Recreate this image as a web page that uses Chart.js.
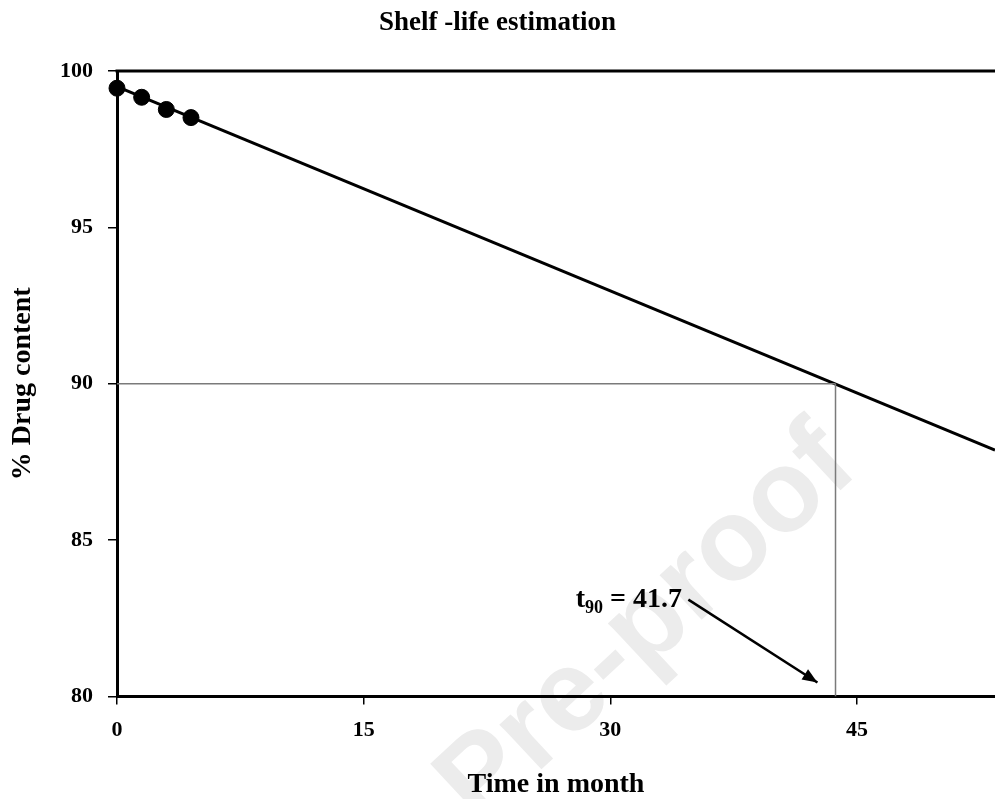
<!DOCTYPE html>
<html>
<head>
<meta charset="utf-8">
<script src="https://cdn.jsdelivr.net/npm/chart.js@4.4.1/dist/chart.umd.min.js"></script>
<style>
  body { margin: 0; background: #fff; }
  #wrap { width: 995px; height: 799px; position: relative; }
</style>
</head>
<body>
<div id="wrap"><canvas id="shelfChart"></canvas></div>
<script>
// measured stability points (month, % drug content)
var months = [0, 1.5, 3, 4.5];
var drugContent = [99.45, 99.16, 98.77, 98.51];

// regression line, drawn between its two ends
var fitX = [0, 53.4];
var fitY = [99.5, 87.88];

// t90 read-off
var t90Month = 43.7;
var t90Level = 90;
var t90Text = '41.7';

// arrow from the label towards the t90 point on the axis
var arrowX = [34.75, 42.6];
var arrowY = [83.1, 80.45];
var labelX = 27.9;
var labelY = 82.85;

var xTicks = [0, 15, 30, 45];
var yTicks = [80, 85, 90, 95, 100];

var serif = "'Liberation Serif', 'Times New Roman', serif";

function toPoints(xs, ys) {
  return xs.map(function (x, i) { return { x: x, y: ys[i] }; });
}

// white background + faint watermark behind everything
var backdrop = {
  id: 'backdrop',
  beforeDraw: function (chart) {
    var ctx = chart.ctx;
    ctx.save();
    ctx.fillStyle = '#fff';
    ctx.fillRect(0, 0, chart.width, chart.height);
    ctx.translate(648, 626);
    ctx.rotate(-43 * Math.PI / 180);
    ctx.font = "bold 116px 'Liberation Sans', Arial, sans-serif";
    ctx.fillStyle = '#ececec';
    ctx.textAlign = 'center';
    ctx.textBaseline = 'middle';
    ctx.fillText('Pre-proof', 0, 0);
    ctx.restore();
  }
};

// top frame line, arrow head and the t90 label
var extras = {
  id: 'extras',
  afterDraw: function (chart) {
    var ctx = chart.ctx;
    var area = chart.chartArea;
    var xs = chart.scales.x, ys = chart.scales.y;
    ctx.save();
    ctx.strokeStyle = '#000';
    ctx.lineWidth = 3;
    ctx.beginPath();
    ctx.moveTo(area.left - 1.5, area.top);
    ctx.lineTo(area.right, area.top);
    ctx.stroke();

    // arrow head
    var x0 = xs.getPixelForValue(arrowX[0]), y0 = ys.getPixelForValue(arrowY[0]);
    var x1 = xs.getPixelForValue(arrowX[1]), y1 = ys.getPixelForValue(arrowY[1]);
    var ang = Math.atan2(y1 - y0, x1 - x0);
    var len = 15, half = 6;
    ctx.fillStyle = '#000';
    ctx.beginPath();
    ctx.moveTo(x1, y1);
    ctx.lineTo(x1 - len * Math.cos(ang) + half * Math.sin(ang), y1 - len * Math.sin(ang) - half * Math.cos(ang));
    ctx.lineTo(x1 - len * Math.cos(ang) - half * Math.sin(ang), y1 - len * Math.sin(ang) + half * Math.cos(ang));
    ctx.closePath();
    ctx.fill();

    // t90 = 41.7 label
    var lx = xs.getPixelForValue(labelX), ly = ys.getPixelForValue(labelY);
    ctx.textBaseline = 'alphabetic';
    ctx.textAlign = 'left';
    ctx.font = 'bold 28px ' + serif;
    ctx.fillText('t', lx, ly);
    lx += ctx.measureText('t').width;
    ctx.font = 'bold 18px ' + serif;
    ctx.fillText('90', lx, ly + 6);
    lx += ctx.measureText('90').width;
    ctx.font = 'bold 28px ' + serif;
    ctx.fillText(' = ' + t90Text, lx, ly);
    ctx.restore();
  }
};

var ctx = document.getElementById('shelfChart').getContext('2d');
var shelfChart = new Chart(ctx, {
  type: 'scatter',
  data: {
    datasets: [
      {
        label: 'h90',
        data: toPoints([0, t90Month], [t90Level, t90Level]),
        showLine: true,
        borderColor: '#7a7a7a',
        borderWidth: 1.5,
        pointRadius: 0
      },
      {
        label: 'v90',
        data: toPoints([t90Month, t90Month], [80, t90Level]),
        showLine: true,
        borderColor: '#7a7a7a',
        borderWidth: 1.5,
        pointRadius: 0
      },
      {
        label: 'fit',
        data: toPoints(fitX, fitY),
        showLine: true,
        borderColor: '#000',
        borderWidth: 3,
        pointRadius: 0
      },
      {
        label: 'arrow',
        data: toPoints(arrowX, arrowY),
        showLine: true,
        borderColor: '#000',
        borderWidth: 2.5,
        pointRadius: 0,
        clip: false
      },
      {
        label: 'Drug content',
        data: toPoints(months, drugContent),
        showLine: false,
        backgroundColor: '#000',
        borderColor: '#000',
        pointRadius: 8,
        pointHoverRadius: 8,
        clip: false
      }
    ]
  },
  options: {
    responsive: true,
    maintainAspectRatio: false,
    animation: false,
    layout: { autoPadding: false, padding: 0 },
    plugins: {
      legend: { display: false },
      tooltip: { enabled: false },
      title: {
        display: true,
        text: 'Shelf -life estimation',
        color: '#000',
        font: { family: serif, size: 27, weight: 'bold', lineHeight: 1 },
        padding: { top: 9.5, bottom: 34.5 }
      }
    },
    scales: {
      x: {
        type: 'linear',
        min: 0,
        max: 53.4,
        afterBuildTicks: function (axis) {
          axis.ticks = xTicks.map(function (v) { return { value: v }; });
        },
        ticks: {
          color: '#000',
          padding: 13,
          font: { family: serif, size: 22, weight: 'bold' }
        },
        grid: { drawOnChartArea: false, tickLength: 8, color: '#000', lineWidth: 1.5 },
        border: { color: '#000', width: 3 },
        title: {
          display: true,
          text: 'Time in month',
          color: '#000',
          font: { family: serif, size: 28, weight: 'bold', lineHeight: 1 },
          padding: { top: 14, bottom: 0 }
        }
      },
      y: {
        type: 'linear',
        min: 80,
        max: 100,
        afterBuildTicks: function (axis) {
          axis.ticks = yTicks.map(function (v) { return { value: v }; });
        },
        ticks: {
          color: '#000',
          padding: 15,
          font: { family: serif, size: 22, weight: 'bold' }
        },
        grid: { drawOnChartArea: false, tickLength: 9, color: '#000', lineWidth: 1.5 },
        border: { color: '#000', width: 3 },
        title: {
          display: true,
          text: '% Drug content',
          color: '#000',
          font: { family: serif, size: 28, weight: 'bold', lineHeight: 1 },
          padding: { top: 9, bottom: 8 }
        }
      }
    }
  },
  plugins: [backdrop, extras]
});
</script>
</body>
</html>
